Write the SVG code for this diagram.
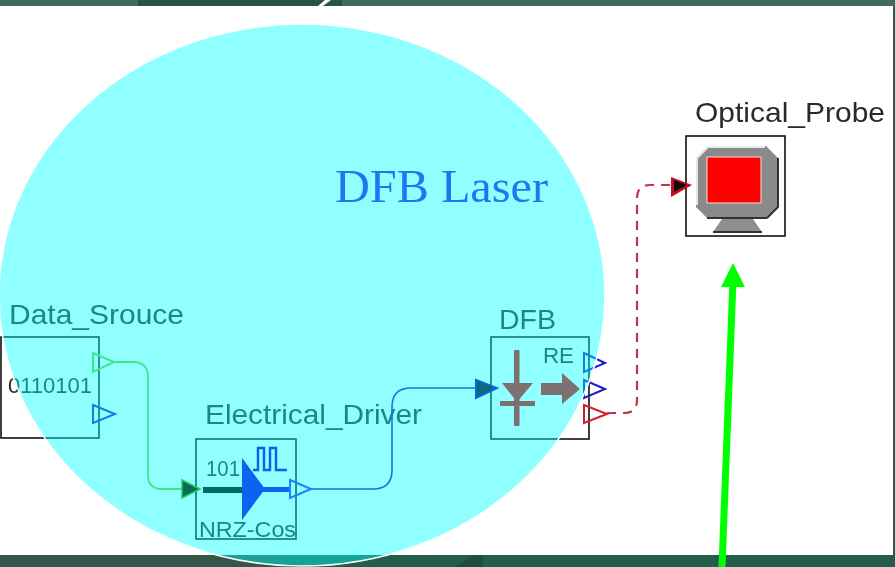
<svg xmlns="http://www.w3.org/2000/svg" width="895" height="567" viewBox="0 0 895 567">
<defs>
<style>
text{font-family:"Liberation Sans",Arial,sans-serif;fill:#2a2a2a}
.label{font-size:28px}
.small{font-size:22px}
.box{fill:none;stroke:#111;stroke-width:1.6}
.port{fill:none;stroke-width:2}
.icon{fill:#7d7070}
</style>
<filter id="soft" x="-5%" y="-5%" width="110%" height="110%"><feGaussianBlur stdDeviation="0.55"/></filter>
</defs>
<rect width="895" height="567" fill="#fff"/>
<g id="frame">
<rect x="0" y="0" width="895" height="6" fill="#416b5a"/>
<rect x="138" y="0" width="204" height="6" fill="#2b5440"/>
<polygon points="318,6 325,0 331,0 323,6" fill="#fff"/>
<rect x="893" y="6" width="2" height="549" fill="#2f5a48"/>
<rect x="0" y="555" width="895" height="12" fill="#35574a"/>
<rect x="285" y="555" width="610" height="12" fill="#225e4a"/>
<polygon points="455,567 475,555 483,555 483,567" fill="#1d4f3e"/>
</g>
<g filter="url(#soft)">
<g id="Data_Source">
<text x="9" y="324" class="label" textLength="175" lengthAdjust="spacingAndGlyphs">Data_Srouce</text>
<rect x="1" y="337" width="98" height="101" class="box"/>
<text x="8" y="393" class="small" textLength="84" lengthAdjust="spacingAndGlyphs">0110101</text>
<polygon points="93,405 115,414 93,423" class="port" stroke="#1a1ad0"/>
</g>
<g id="Electrical_Driver">
<text x="205" y="424" class="label" textLength="217" lengthAdjust="spacingAndGlyphs">Electrical_Driver</text>
<rect x="196" y="439" width="100" height="100" class="box"/>
<text x="206" y="476" class="small" textLength="34" lengthAdjust="spacingAndGlyphs">101</text>
<text x="199" y="537" class="small" textLength="97" lengthAdjust="spacingAndGlyphs">NRZ-Cos</text>
</g>
<g id="DFB">
<text x="499" y="329" class="label" textLength="57" lengthAdjust="spacingAndGlyphs">DFB</text>
<rect x="491" y="337" width="98" height="102" class="box"/>
<text x="543" y="363" class="small" textLength="31" lengthAdjust="spacingAndGlyphs">RE</text>
<polygon points="584,353 605,363 584,372" class="port" stroke="#1a1ad0"/>
<polygon points="584,380 605,389 584,398" class="port" stroke="#1a1ad0"/>
<polygon points="584,405 607,414 584,423" class="port" stroke="#d81c2c"/>
</g>
<g id="Optical_Probe">
<text x="695" y="122" class="label" textLength="190" lengthAdjust="spacingAndGlyphs">Optical_Probe</text>
<rect x="686" y="136" width="99" height="100" class="box"/>
<polygon points="708,146 766,146 778,158 778,207 767,218 707,218 696,207 696,158" fill="#8a8a8a"/>
<path d="M767,218 L778,207 V158" fill="none" stroke="#333" stroke-width="2"/>
<path d="M707,218 H767" fill="none" stroke="#333" stroke-width="2"/>
<path d="M697,205 V158 L708,147 H765" fill="none" stroke="#e8e8e8" stroke-width="2"/>
<rect x="707" y="157" width="54" height="46" fill="#ff0000" stroke="#f6dede" stroke-width="1"/>
<polygon points="722,219 753,219 762,232 713,232" fill="#8f8f8f"/>
<path d="M713,232 H762" stroke="#333" stroke-width="2" fill="none"/>
</g>
</g>
<ellipse id="overlay" cx="302" cy="295" rx="303" ry="271" fill="#00ffff" fill-opacity="0.44" stroke="#fff" stroke-width="1.6"/>
<g filter="url(#soft)">
<g id="connectors" fill="none">
<path d="M114,362 H133 Q148,362 148,377 V475 Q148,489 162,489 H200" stroke="#3ce888" stroke-width="1.8"/>
<path d="M311,489 H373 Q392,489 392,470 V407 Q392,388 411,388 H490" stroke="#1f6fd8" stroke-width="1.6"/>
<path d="M607,413 H624 Q637,413 637,400 V198 Q637,185 650,185 H680" stroke="#c8304a" stroke-width="2.2" stroke-dasharray="9 7"/>
</g>
<g id="Data_Source_port">
<polygon points="93,353 114,362 93,372" class="port" stroke="#3ce888"/>
</g>
<g id="Electrical_Driver_icon">
<path d="M253,470 H258 V448 H264 V470 H270 V448 H276 V470 H287" fill="none" stroke="#0e62e8" stroke-width="2.4"/>
<polygon points="182,480 200,489 182,498" fill="#0b6b55" stroke="#20d060" stroke-width="1.5"/>
<rect x="203" y="487" width="40" height="6" fill="#056a60"/>
<polygon points="242,458 265,489 242,520" fill="#0a64f0"/>
<rect x="263" y="487" width="28" height="5" fill="#0a64f0"/>
<polygon points="290,480 311,489 290,498" class="port" stroke="#1f80ff"/>
</g>
<g id="DFB_icon">
<rect x="514" y="350" width="5.500" height="76" class="icon"/>
<polygon points="502,383 533,383 517,402" class="icon"/>
<rect x="500" y="401" width="35" height="5" class="icon"/>
<rect x="541" y="383" width="22" height="12" class="icon"/>
<polygon points="562,373 580,389 562,404" class="icon"/>
<polygon points="476,380 497,388 476,398" fill="#0b6b7a" stroke="#0a66d8" stroke-width="2"/>
</g>
<g id="Optical_Probe_input">
<polygon points="671,177 692,185 671,197" fill="#c01020"/>
<polygon points="674,180 687,185 674,192" fill="#111"/>
</g>
<text id="title" x="335" y="202" textLength="213" lengthAdjust="spacingAndGlyphs" style="font-family:'Liberation Serif',serif;font-size:46px;fill:#1e78f0">DFB Laser</text>
</g>
<g id="annotation">
<line x1="722" y1="567" x2="733" y2="280" stroke="#00ff00" stroke-width="7"/>
<polygon points="733,263 745,287 721,287" fill="#00ff00"/>
</g>
</svg>
